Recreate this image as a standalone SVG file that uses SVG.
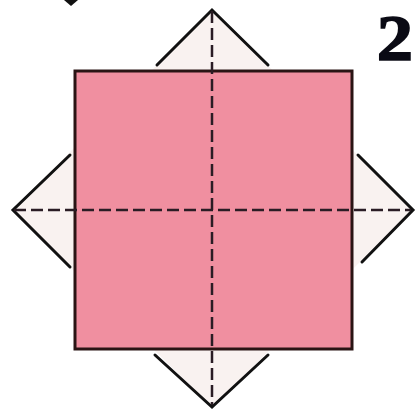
<svg xmlns="http://www.w3.org/2000/svg" width="417" height="411" viewBox="0 0 417 411">
<style>
.edge{fill:none;stroke:#111;stroke-width:3;stroke-linecap:round;stroke-linejoin:miter}
.fold{fill:none;stroke:#2a1c24;stroke-width:2.5;stroke-dasharray:12 5}
.sq{fill:#f08fa0;stroke:#2a1414;stroke-width:3}
</style>
<rect width="417" height="411" fill="#ffffff"/>
<g id="back-diamond">
<polygon points="212,10 413,210 212,407 12,210" fill="#f9f2f0"/>
</g>
<g id="front-square">
<rect class="sq" x="75" y="71" width="277" height="278"/>
</g>
<g id="diamond-edges">
<polyline class="edge" points="157,65 212,10 268,65"/>
<polyline class="edge" points="70,155 13,210 70,267"/>
<polyline class="edge" points="358,155 413,210 362,262"/>
<polyline class="edge" points="155,355 212,407 268,355"/>
</g>
<g id="folds">
<line class="fold" x1="212" y1="11" x2="212" y2="405"/>
<line class="fold" x1="14" y1="210" x2="411" y2="210"/>
</g>
<polygon points="64,0 78,0 71,6" fill="#111"/>
<text x="395" y="60" font-family="Liberation Serif, serif" font-weight="bold" font-size="66" text-anchor="middle" fill="#0a0a14" stroke="#0a0a14" stroke-width="1.5" transform="translate(395 60) scale(1.1 1) translate(-395 -60)">2</text>
</svg>
